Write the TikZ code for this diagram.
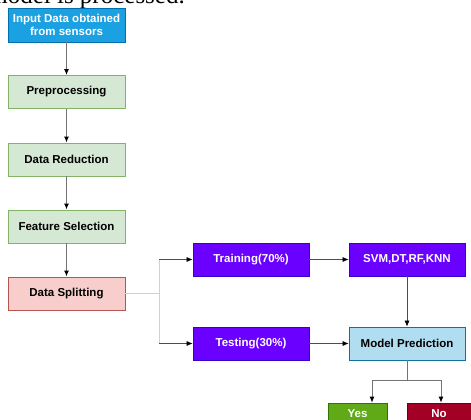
\documentclass[tikz,border=0pt]{standalone}
\usepackage{fontspec}
\setmainfont{Liberation Serif}
\newfontfamily\boxfont{Liberation Sans}
\usetikzlibrary{arrows.meta}
\definecolor{inblue}{HTML}{1BA1E2}
\definecolor{inbluedk}{HTML}{006EAF}
\definecolor{grfill}{HTML}{D5E8D4}
\definecolor{grline}{HTML}{82B366}
\definecolor{rdfill}{HTML}{F8CECC}
\definecolor{rdline}{HTML}{B85450}
\definecolor{pur}{HTML}{6A00FF}
\definecolor{purdk}{HTML}{3700CC}
\definecolor{ltblue}{HTML}{B1DDF0}
\definecolor{ltbluedk}{HTML}{10739E}
\definecolor{yesg}{HTML}{60A917}
\definecolor{yesgdk}{HTML}{2D7600}
\definecolor{nored}{HTML}{A20025}
\definecolor{noreddk}{HTML}{6F0000}
\tikzset{
  box/.style={draw, line width=0.8pt, minimum width=117pt, minimum height=33pt, inner sep=0pt,
    font=\boxfont\bfseries\fontsize{11.5}{13}\selectfont, align=center},
  smallbox/.style={draw, line width=0.8pt, minimum width=59pt, minimum height=30pt, inner sep=0pt,
    font=\boxfont\bfseries\fontsize{11.5}{13}\selectfont, text=white},
  arr/.style={draw=black!55, line width=1.2pt, -{Latex[length=6pt,width=5pt,color=black]}},
  thinarr/.style={draw=black!70, line width=0.6pt, -{Latex[length=6pt,width=5pt,color=black]}},
  lightline/.style={draw=black!18, line width=1pt},
}
\begin{document}
\begin{tikzpicture}[x=1pt,y=-1pt]
\useasboundingbox (0,0) rectangle (471,420);
\clip (0,0) rectangle (471,420);
\node[anchor=base east, font=\fontsize{25}{27}\selectfont, inner sep=0pt] (cap) at (185,4) {model is processed.};
\node[box, fill=inblue, draw=inbluedk, text=white, minimum height=34pt] (input) at (66.5,25) {Input Data obtained\\from sensors};
\node[box, fill=grfill, draw=grline] (pre) at (66.5,92) {Preprocessing};
\node[box, fill=grfill, draw=grline] (red) at (66.5,159.5) {Data Reduction};
\node[box, fill=grfill, draw=grline] (fs) at (66.5,226.5) {Feature Selection};
\node[box, fill=rdfill, draw=rdline] (split) at (66.5,293.5) {Data Splitting};
\node[box, fill=pur, draw=purdk, text=white, minimum width=116pt] (train) at (251,259.5) {Training(70\%)};
\node[box, fill=pur, draw=purdk, text=white, minimum width=116pt] (svm) at (407,259.5) {SVM,DT,RF,KNN};
\node[box, fill=pur, draw=purdk, text=white, minimum width=116pt] (test) at (251,343.5) {Testing(30\%)};
\node[box, fill=ltblue, draw=ltbluedk, minimum width=116pt] (mp) at (407,343.5) {Model Prediction};
\node[smallbox, fill=yesg, draw=yesgdk] (yes) at (357.5,418) {\raisebox{9pt}{Yes}};
\node[smallbox, fill=nored, draw=noreddk, minimum width=64pt] (no) at (439,418) {\raisebox{9pt}{No}};
\coordinate (br) at (159,293.5);
\coordinate (bu) at (159,259.5);
\coordinate (bd) at (159,343.5);
\coordinate (mj) at (407,380);
\coordinate (yj) at (372,380);
\coordinate (nj) at (441,380);
\draw[arr] (input) -- (pre);
\draw[arr] (pre) -- (red);
\draw[arr] (red) -- (fs);
\draw[arr] (fs) -- (split);
\draw[lightline] (split.east) -- (br);
\draw[lightline] (bu) -- (bd);
\draw[thinarr] (bu) -- (train.west);
\draw[thinarr] (bd) -- (test.west);
\draw[thinarr] (train) -- (svm);
\draw[thinarr] (svm) -- (mp);
\draw[thinarr] (test) -- (mp);
\draw[draw=black!55, line width=0.8pt] (mp.south) -- (mj);
\draw[thinarr, draw=black!55, line width=0.8pt] (mj) -- (yj) -- (yj |- yes.north);
\draw[thinarr, draw=black!55, line width=0.8pt] (mj) -- (nj) -- (nj |- no.north);
\end{tikzpicture}
\end{document}
